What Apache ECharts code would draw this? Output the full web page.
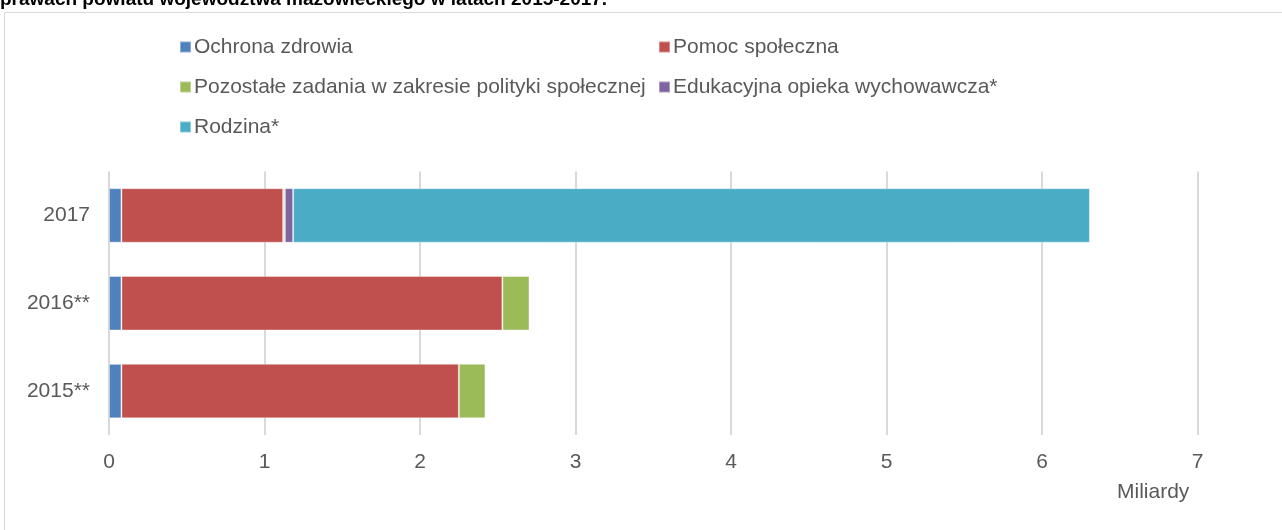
<!DOCTYPE html>
<html>
<head>
<meta charset="utf-8">
<script src="https://cdn.jsdelivr.net/npm/echarts@6/dist/echarts.min.js"></script>
<style>
html,body{margin:0;padding:0;background:#fff;}
#c{width:1282px;height:530px;}
</style>
</head>
<body>
<div id="c"></div>
<script>
const categories = ['2015**', '2016**', '2017'];
const seriesNames = [
  'Ochrona zdrowia',
  'Pomoc społeczna',
  'Pozostałe zadania w zakresie polityki społecznej',
  'Edukacyjna opieka wychowawcza*',
  'Rodzina*'
];
const ochronaZdrowia = [0.08, 0.08, 0.08];
const pomocSpoleczna = [2.17, 2.45, 1.04];
const pozostaleZadania = [0.171, 0.174, 0.011];
const edukacyjnaOpieka = [0, 0, 0.053];
const rodzina = [0, 0, 5.124];
const xTicks = [0, 1, 2, 3, 4, 5, 6, 7];
const colors = ['#4F81BD', '#C0504D', '#9BBB59', '#8064A2', '#4BACC6'];
const titleText = 'prawach powiatu województwa mazowieckiego w latach 2015-2017.';
const axisUnit = 'Miliardy';

const values = [ochronaZdrowia, pomocSpoleczna, pozostaleZadania, edukacyjnaOpieka, rodzina];
const font = 'Arial, "Liberation Sans", sans-serif';
const txt = '#595959';

const chart = echarts.init(document.getElementById('c'), null, {renderer: 'canvas'});
chart.setOption({
  animation: false,
  color: colors,
  textStyle: {fontFamily: font},
  grid: {left: 109, right: 84.5, top: 171.5, bottom: 95, containLabel: false},
  legend: [
    {
      orient: 'vertical', left: 174, top: 31.5, itemWidth: 11, itemHeight: 11, itemGap: 19,
      icon: 'rect',
      textStyle: {fontSize: 21, color: txt, fontFamily: font, padding: [0, 0, 0, -2]},
      data: [seriesNames[0], seriesNames[2], seriesNames[4]]
    },
    {
      orient: 'vertical', left: 653, top: 31.5, itemWidth: 11, itemHeight: 11, itemGap: 19,
      icon: 'rect',
      textStyle: {fontSize: 21, color: txt, fontFamily: font, padding: [0, 0, 0, -2]},
      data: [seriesNames[1], seriesNames[3]]
    }
  ],
  xAxis: {
    type: 'value', min: 0, max: 7, interval: 1,
    axisLine: {show: false}, axisTick: {show: false},
    splitLine: {show: true, lineStyle: {color: '#D9D9D9', width: 2}},
    axisLabel: {fontSize: 21, color: txt, margin: 17, fontFamily: font,
      formatter: v => xTicks.includes(v) ? String(v) : ''}
  },
  yAxis: {
    type: 'category', data: categories,
    axisLine: {show: false}, axisTick: {show: false},
    axisLabel: {fontSize: 21, color: txt, margin: 19, fontFamily: font}
  },
  graphic: [
    {type: 'rect', silent: true, shape: {x: 4.5, y: 12.5, width: 1400, height: 700},
     style: {fill: 'none', stroke: '#D9D9D9', lineWidth: 1}},
    {type: 'text', silent: true, left: 0, top: -10,
     style: {text: titleText, font: 'bold 19px Arial, "Liberation Sans", sans-serif', fill: '#000'}},
    {type: 'text', silent: true, left: 1117, top: 482,
     style: {text: axisUnit, font: '21px Arial, "Liberation Sans", sans-serif', fill: txt}}
  ],
  series: seriesNames.map((n, i) => ({
    name: n, type: 'bar', stack: 'total', barWidth: '62%',
    data: values[i],
    itemStyle: {color: colors[i], borderColor: 'rgba(255,255,255,0.35)', borderWidth: 1}
  }))
});
</script>
</body>
</html>
